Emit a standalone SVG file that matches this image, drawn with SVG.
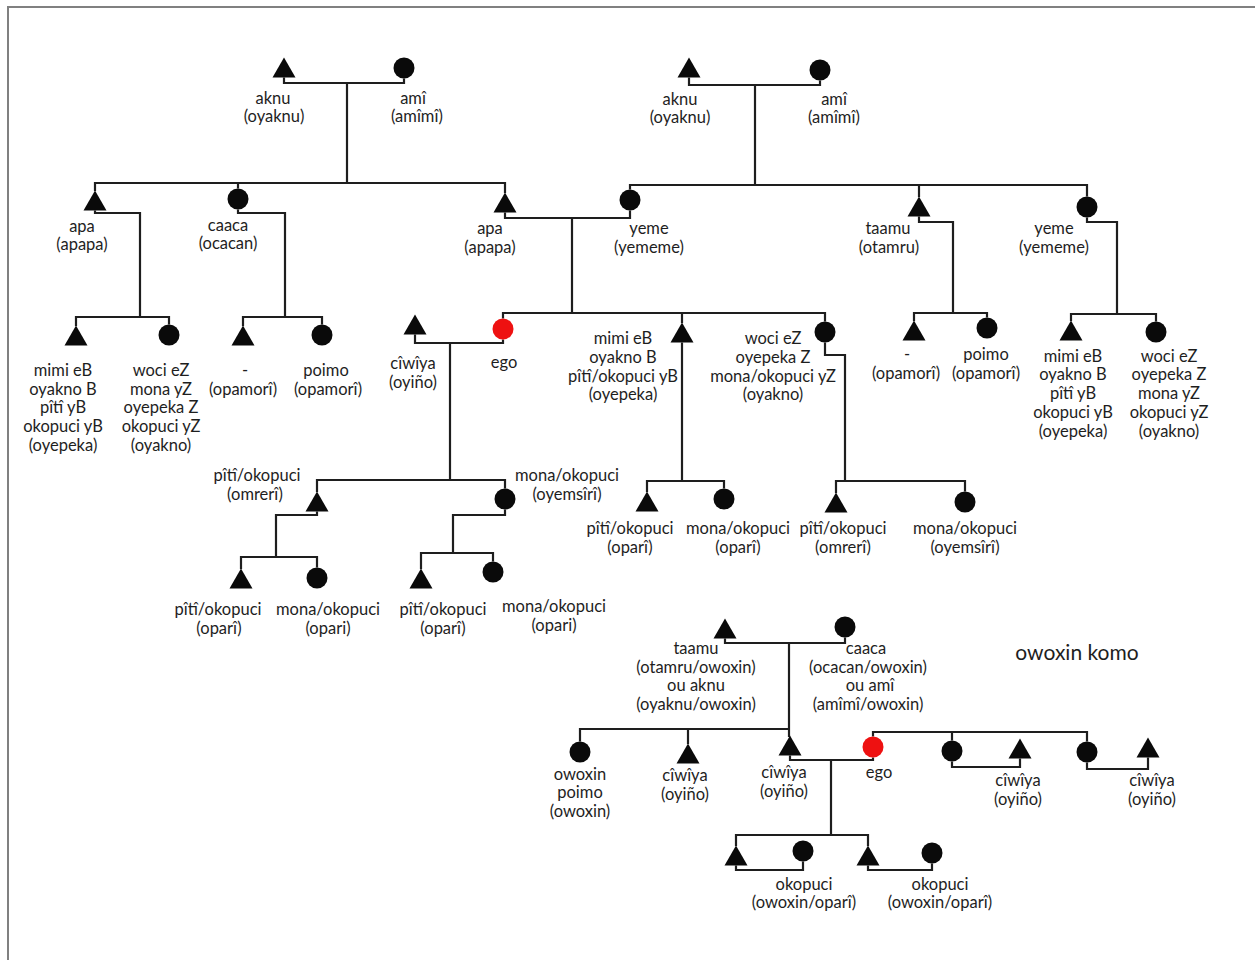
<svg xmlns="http://www.w3.org/2000/svg" xmlns:xlink="http://www.w3.org/1999/xlink" width="1255" height="960" viewBox="0 0 1255 960">
<defs>
<style>
.frame{fill:none;stroke:#808080;stroke-width:2}
.c{fill:none;stroke:#1e1e1e;stroke-width:2.2}
.m{fill:#0a0a0a}
.ego{fill:#ee1111}
text{font-family:Lato,"Open Sans","Liberation Sans",sans-serif;font-size:16.5px;fill:#1e1e1e;text-anchor:middle}
.big{font-size:21px}
</style>
<path id="tri" d="M0,-10.5 L11.5,9.5 L-11.5,9.5 Z"/>
</defs>
<rect x="0" y="0" width="1255" height="960" fill="#ffffff"/>
<rect class="frame" x="8" y="7" width="1262" height="975"/>
<g id="connectors" class="c">
<path d="M284,77.5 V83 H404 V78.5"/>
<path d="M347,83 V183"/>
<path d="M95,191 V183 H505 V193"/>
<path d="M238,183 V188.5"/>
<path d="M689,77.5 V85 H820 V80.5"/>
<path d="M755,85 V185"/>
<path d="M630,189.5 V185 H1087 V196.5"/>
<path d="M919,185 V197"/>
<path d="M505,212.5 V218 H630 V210.5"/>
<path d="M572,218 V313"/>
<path d="M503,318.5 V313 H825 V321.5"/>
<path d="M682,313 V323"/>
<path d="M95,210.5 V213 H140 V317"/>
<path d="M76,326 V317 H169 V324.5"/>
<path d="M238,209.5 V213 H285 V317"/>
<path d="M243,326 V317 H322 V324.5"/>
<path d="M919,216.5 V222 H953 V313"/>
<path d="M914,321 V313 H987 V317.5"/>
<path d="M1087,217.5 V222 H1117 V314"/>
<path d="M1071,321 V314 H1156 V321.5"/>
<path d="M415,334.5 V343 H503 V339.5"/>
<path d="M450,343 V480"/>
<path d="M317,492 V480 H505 V488.5"/>
<path d="M317,511.5 V515 H276 V557"/>
<path d="M241,569 V557 H317 V567.5"/>
<path d="M505,509.5 V515 H453 V553"/>
<path d="M421,569 V553 H493 V561.5"/>
<path d="M682,342.5 V481"/>
<path d="M647,492 V481 H724 V488.5"/>
<path d="M825,342.5 V355 H845 V481"/>
<path d="M836,493 V481 H965 V491.5"/>
<path d="M725,638.5 V643 H845 V637.5"/>
<path d="M789,643 V737"/>
<path d="M580,741.5 V729 H789"/>
<path d="M688,729 V744"/>
<path d="M790,755.5 V760 H873 V757.5"/>
<path d="M831,760 V835"/>
<path d="M873,736.5 V732 H1087 V741.5"/>
<path d="M952,732 V740.5"/>
<path d="M952,761.5 V767 H1020 V758.5"/>
<path d="M1087,762.5 V769 H1148 V757.5"/>
<path d="M736,846 V835 H868 V846"/>
<path d="M736,865.5 V870 H803 V861.5"/>
<path d="M868,865.5 V870 H932 V863.5"/>
</g>
<g id="n-tl-aknu"><use href="#tri" x="284" y="68" class="m"/><text x="273" y="104">aknu</text><text x="274" y="122">(oyaknu)</text></g>
<g id="n-tl-ami"><circle cx="404" cy="68" r="10.5" class="m"/><text x="413" y="104">amî</text><text x="417" y="122">(amîmî)</text></g>
<g id="n-tr-aknu"><use href="#tri" x="689" y="68" class="m"/><text x="680" y="105">aknu</text><text x="680" y="123">(oyaknu)</text></g>
<g id="n-tr-ami"><circle cx="820" cy="70" r="10.5" class="m"/><text x="834" y="105">amî</text><text x="834" y="123">(amîmî)</text></g>
<g id="n-apa-l"><use href="#tri" x="95" y="201" class="m"/><text x="82" y="232">apa</text><text x="82" y="250">(apapa)</text></g>
<g id="n-caaca"><circle cx="238" cy="199" r="10.5" class="m"/><text x="228" y="231">caaca</text><text x="228" y="249">(ocacan)</text></g>
<g id="n-apa-f"><use href="#tri" x="505" y="203" class="m"/><text x="490" y="234">apa</text><text x="490" y="253">(apapa)</text></g>
<g id="n-yeme-m"><circle cx="630" cy="200" r="10.5" class="m"/><text x="649" y="234">yeme</text><text x="649" y="253">(yememe)</text></g>
<g id="n-taamu"><use href="#tri" x="919" y="207" class="m"/><text x="888" y="234">taamu</text><text x="889" y="253">(otamru)</text></g>
<g id="n-yeme-r"><circle cx="1087" cy="207" r="10.5" class="m"/><text x="1054" y="234">yeme</text><text x="1054" y="253">(yememe)</text></g>
<g id="n-mimi-l"><use href="#tri" x="76" y="336" class="m"/><text x="63" y="376">mimi eB</text><text x="63" y="395">oyakno B</text><text x="63" y="413">pîtî yB</text><text x="63" y="432">okopuci yB</text><text x="63" y="451">(oyepeka)</text></g>
<g id="n-woci-l"><circle cx="169" cy="335" r="10.5" class="m"/><text x="161" y="376">woci eZ</text><text x="161" y="395">mona yZ</text><text x="161" y="413">oyepeka Z</text><text x="161" y="432">okopuci yZ</text><text x="161" y="451">(oyakno)</text></g>
<g id="n-cous-l"><use href="#tri" x="243" y="336" class="m"/><text x="245" y="376">-</text><text x="243" y="395">(opamorî)</text></g>
<g id="n-poimo-l"><circle cx="322" cy="335" r="10.5" class="m"/><text x="326" y="376">poimo</text><text x="328" y="395">(opamorî)</text></g>
<g id="n-ciwiya"><use href="#tri" x="415" y="325" class="m"/><text x="413" y="369">cîwîya</text><text x="413" y="388">(oyiño)</text></g>
<g id="n-ego"><circle cx="503" cy="329" r="10.5" class="ego"/><text x="504" y="368">ego</text></g>
<g id="n-mimi-m"><use href="#tri" x="682" y="333" class="m"/><text x="623" y="344">mimi eB</text><text x="623" y="363">oyakno B</text><text x="623" y="382">pîtî/okopuci yB</text><text x="623" y="400">(oyepeka)</text></g>
<g id="n-woci-m"><circle cx="825" cy="332" r="10.5" class="m"/><text x="773" y="344">woci eZ</text><text x="773" y="363">oyepeka Z</text><text x="773" y="382">mona/okopuci yZ</text><text x="773" y="400">(oyakno)</text></g>
<g id="n-cous-r"><use href="#tri" x="914" y="331" class="m"/><text x="907" y="360">-</text><text x="906" y="379">(opamorî)</text></g>
<g id="n-poimo-r"><circle cx="987" cy="328" r="10.5" class="m"/><text x="986" y="360">poimo</text><text x="986" y="379">(opamorî)</text></g>
<g id="n-mimi-r"><use href="#tri" x="1071" y="331" class="m"/><text x="1073" y="362">mimi eB</text><text x="1073" y="380">oyakno B</text><text x="1073" y="399">pîtî yB</text><text x="1073" y="418">okopuci yB</text><text x="1073" y="437">(oyepeka)</text></g>
<g id="n-woci-r"><circle cx="1156" cy="332" r="10.5" class="m"/><text x="1169" y="362">woci eZ</text><text x="1169" y="380">oyepeka Z</text><text x="1169" y="399">mona yZ</text><text x="1169" y="418">okopuci yZ</text><text x="1169" y="437">(oyakno)</text></g>
<g id="n-ego-son"><use href="#tri" x="317" y="502" class="m"/><text x="257" y="481">pîtî/okopuci</text><text x="255" y="500">(omrerî)</text></g>
<g id="n-ego-dau"><circle cx="505" cy="499" r="10.5" class="m"/><text x="567" y="481">mona/okopuci</text><text x="567" y="500">(oyemsîrî)</text></g>
<g id="n-gc1"><use href="#tri" x="241" y="579" class="m"/><text x="218" y="615">pîtî/okopuci</text><text x="219" y="634">(oparî)</text></g>
<g id="n-gc2"><circle cx="317" cy="578" r="10.5" class="m"/><text x="328" y="615">mona/okopuci</text><text x="328" y="634">(opari)</text></g>
<g id="n-gc3"><use href="#tri" x="421" y="579" class="m"/><text x="443" y="615">pîtî/okopuci</text><text x="443" y="634">(oparî)</text></g>
<g id="n-gc4"><circle cx="493" cy="572" r="10.5" class="m"/><text x="554" y="612">mona/okopuci</text><text x="554" y="631">(opari)</text></g>
<g id="n-bk1"><use href="#tri" x="647" y="502" class="m"/><text x="630" y="534">pîtî/okopuci</text><text x="630" y="553">(oparî)</text></g>
<g id="n-bk2"><circle cx="724" cy="499" r="10.5" class="m"/><text x="738" y="534">mona/okopuci</text><text x="738" y="553">(oparî)</text></g>
<g id="n-sk1"><use href="#tri" x="836" y="503" class="m"/><text x="843" y="534">pîtî/okopuci</text><text x="843" y="553">(omrerî)</text></g>
<g id="n-sk2"><circle cx="965" cy="502" r="10.5" class="m"/><text x="965" y="534">mona/okopuci</text><text x="965" y="553">(oyemsîrî)</text></g>
<text id="title" class="big" x="1077" y="660">owoxin komo</text>
<g id="n-b-taamu"><use href="#tri" x="725" y="629" class="m"/><text x="696" y="654">taamu</text><text x="696" y="673">(otamru/owoxin)</text><text x="696" y="691">ou aknu</text><text x="696" y="710">(oyaknu/owoxin)</text></g>
<g id="n-b-caaca"><circle cx="845" cy="627" r="10.5" class="m"/><text x="866" y="654">caaca</text><text x="868" y="673">(ocacan/owoxin)</text><text x="870" y="691">ou amî</text><text x="868" y="710">(amîmî/owoxin)</text></g>
<g id="n-b-owoxin"><circle cx="580" cy="752" r="10.5" class="m"/><text x="580" y="780">owoxin</text><text x="580" y="798">poimo</text><text x="580" y="817">(owoxin)</text></g>
<g id="n-b-ciw1"><use href="#tri" x="688" y="754" class="m"/><text x="685" y="781">cîwîya</text><text x="685" y="800">(oyiño)</text></g>
<g id="n-b-ciw2"><use href="#tri" x="790" y="746" class="m"/><text x="784" y="778">cîwîya</text><text x="784" y="797">(oyiño)</text></g>
<g id="n-b-ego"><circle cx="873" cy="747" r="10.5" class="ego"/><text x="879" y="778">ego</text></g>
<g id="n-b-sis1"><circle cx="952" cy="751" r="10.5" class="m"/></g>
<g id="n-b-ciw3"><use href="#tri" x="1020" y="749" class="m"/><text x="1018" y="786">cîwîya</text><text x="1018" y="805">(oyiño)</text></g>
<g id="n-b-sis2"><circle cx="1087" cy="752" r="10.5" class="m"/></g>
<g id="n-b-ciw4"><use href="#tri" x="1148" y="748" class="m"/><text x="1152" y="786">cîwîya</text><text x="1152" y="805">(oyiño)</text></g>
<g id="n-b-k1"><use href="#tri" x="736" y="856" class="m"/></g>
<g id="n-b-k2"><circle cx="803" cy="851" r="10.5" class="m"/><text x="804" y="890">okopuci</text><text x="804" y="908">(owoxin/oparî)</text></g>
<g id="n-b-k3"><use href="#tri" x="868" y="856" class="m"/></g>
<g id="n-b-k4"><circle cx="932" cy="853" r="10.5" class="m"/><text x="940" y="890">okopuci</text><text x="940" y="908">(owoxin/oparî)</text></g>
</svg>
